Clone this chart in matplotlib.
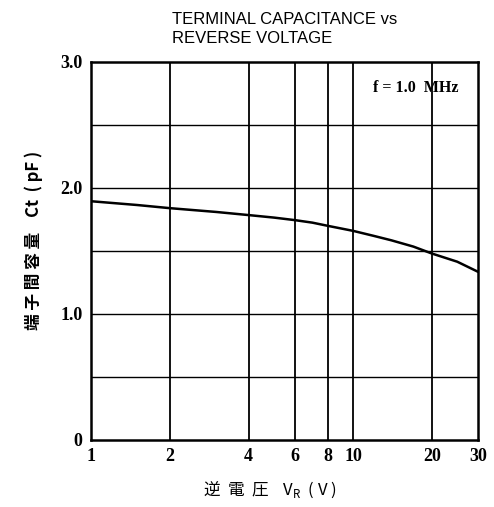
import numpy as np
import matplotlib
matplotlib.use('Agg')
import matplotlib.pyplot as plt

# data
vr = [1, 1.5, 2, 3, 4, 5, 6, 7, 8, 10, 12, 14, 17, 20, 25, 30]
ct = [1.895, 1.865, 1.84, 1.81, 1.785, 1.765, 1.745, 1.725, 1.70, 1.66, 1.62, 1.585, 1.535, 1.48, 1.415, 1.335]
xticks = [1, 2, 4, 6, 8, 10, 20, 30]
yticks = [0, 1.0, 2.0, 3.0]
ytick_labels = ['0', '1.0', '2.0', '3.0']
vgrid = [2, 4, 6, 8, 10, 20]
hgrid = [0.5, 1.0, 1.5, 2.0, 2.5]

fig = plt.figure(figsize=(4.94, 5.07), dpi=100)
ax = fig.add_axes([91 / 494, 1 - 440 / 507, 387 / 494, 378 / 507])

for v in vgrid:
    ax.axvline(v, color='black', lw=1.3)
for h in hgrid:
    ax.axhline(h, color='black', lw=1.0)

ax.plot(vr, ct, color='black', lw=1.8)

ax.set_xscale('log')
ax.set_xlim(1, 30)
ax.set_ylim(0, 3.0)
ax.set_xticks(xticks)
ax.set_xticklabels([str(x) for x in xticks])
ax.minorticks_off()
ax.set_yticks(yticks)
ax.set_yticklabels(ytick_labels)
ax.tick_params(length=0, pad=6)
for lab in ax.get_xticklabels() + ax.get_yticklabels():
    lab.set_family('Liberation Serif')
    lab.set_fontweight('bold')
    lab.set_fontsize(13)
for s in ax.spines.values():
    s.set_linewidth(1.8)

ax.text(0.95, 0.93, 'f = 1.0  MHz', transform=ax.transAxes, ha='right', va='center',
        family='Liberation Serif', fontweight='bold', fontsize=11.5)

fig.text(172 / 494, 1 - 29 / 507, 'TERMINAL CAPACITANCE vs\nREVERSE VOLTAGE', ha='left', va='center',
         multialignment='left', family='Liberation Sans', fontsize=12, linespacing=1.3)

fig.text(34 / 494, 1 - 240 / 507, '端 子 間 容 量    Ct  ( pF )', rotation=90, ha='center', va='center',
         family=['Noto Sans CJK JP', 'DejaVu Sans'], fontsize=12, fontweight='bold')
fig.text(270 / 494, 1 - 490 / 507, '逆  電  圧    V$_\\mathregular{R}$  ( V )', ha='center', va='center',
         family=['Noto Sans CJK JP', 'DejaVu Sans'], fontsize=12)

fig.savefig('out.png', dpi=100)
